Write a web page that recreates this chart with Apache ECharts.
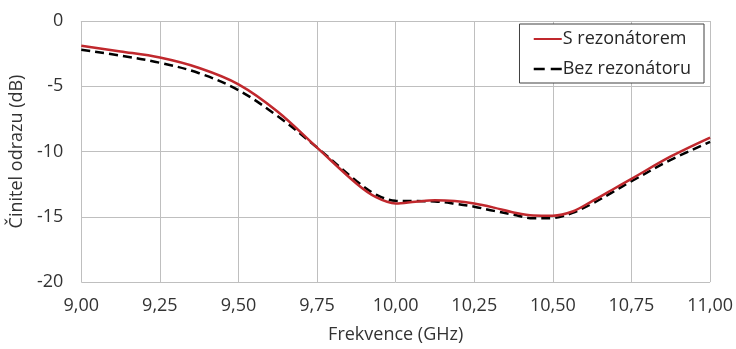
<!DOCTYPE html>
<html><head><meta charset="utf-8">
<script src="https://cdn.jsdelivr.net/npm/echarts@6/dist/echarts.min.js"></script>
<style>html,body{margin:0;padding:0;background:#fff}#c{width:736px;height:349px}</style>
</head><body><div id="c"></div>
<script>
var freq = [9.0, 9.125, 9.25, 9.375, 9.5, 9.625, 9.75, 9.875, 9.9375, 10.0, 10.0625, 10.125, 10.1875, 10.25, 10.3125, 10.375, 10.4375, 10.5, 10.5625, 10.625, 10.6875, 10.75, 10.875, 11.0];
var sRezonatorem = [-1.9, -2.33, -2.8, -3.6, -4.85, -6.95, -9.7, -12.45, -13.5, -13.98, -13.85, -13.74, -13.8, -13.99, -14.3, -14.67, -14.9, -14.92, -14.6, -13.8, -12.95, -12.1, -10.38, -8.93];
var bezRezonatoru = [-2.2, -2.65, -3.2, -4.0, -5.3, -7.3, -9.7, -12.25, -13.3, -13.78, -13.8, -13.83, -14.0, -14.23, -14.55, -14.84, -15.12, -15.1, -14.7, -14.0, -13.15, -12.28, -10.64, -9.26];
var seriesNames = ['S rezonátorem', 'Bez rezonátoru'];
var xName = 'Frekvence (GHz)';
var yName = 'Činitel odrazu (dB)';

function pairs(xs, ys){ return xs.map(function(x,i){ return [x, ys[i]]; }); }
var font = '"Open Sans", sans-serif';
var hidden = {color: 'rgba(0,0,0,0)', borderWidth: 0, opacity: 0};
var chart = echarts.init(document.getElementById('c'));
chart.setOption({
  animation: false,
  grid: {left: 81, right: 25, top: 21, bottom: 63},
  legend: {
    right: 32, top: 24, orient: 'vertical', itemGap: 12,
    backgroundColor: '#fff', borderColor: '#404040', borderWidth: 1,
    padding: [6, 13, 5, 13], itemWidth: 28, itemHeight: 14,
    textStyle: {fontFamily: font, fontSize: 18, color: '#262626', padding: [0,0,0,-4]},
    data: [
      {name: seriesNames[0], itemStyle: hidden, lineStyle: {width: 2}},
      {name: seriesNames[1], itemStyle: hidden, lineStyle: {width: 2.5, type: [11, 6]}}
    ]
  },
  xAxis: {
    type: 'value', min: 9, max: 11, interval: 0.25,
    name: xName, nameLocation: 'middle', nameGap: 44,
    nameTextStyle: {fontFamily: font, fontSize: 18, color: '#333'},
    axisLine: {show: true, lineStyle: {color: '#bfbfbf'}},
    axisTick: {show: false},
    axisLabel: {fontFamily: font, fontSize: 18, color: '#333', margin: 15,
      formatter: function(v){ return v.toFixed(2).replace('.', ','); }},
    splitLine: {show: true, lineStyle: {color: '#bfbfbf'}}
  },
  yAxis: {
    type: 'value', min: -20, max: 0, interval: 5,
    name: yName, nameLocation: 'middle', nameGap: 50, nameRotate: 90,
    nameTextStyle: {fontFamily: font, fontSize: 18, color: '#333'},
    axisLine: {show: false},
    axisTick: {show: false},
    axisLabel: {fontFamily: font, fontSize: 18, color: '#333', margin: 18},
    splitLine: {show: true, lineStyle: {color: '#bfbfbf'}}
  },
  series: [
    {name: seriesNames[0], type: 'line', data: pairs(freq, sRezonatorem), smooth: 0.35, symbol: 'none', z: 3,
     lineStyle: {color: '#c0282d', width: 2.5}, itemStyle: {color: '#c0282d'}},
    {name: seriesNames[1], type: 'line', data: pairs(freq, bezRezonatoru), smooth: 0.35, symbol: 'none', z: 2,
     lineStyle: {color: '#000', width: 2.5, type: [9, 5]}, itemStyle: {color: '#000'}}
  ]
});
</script></body></html>
